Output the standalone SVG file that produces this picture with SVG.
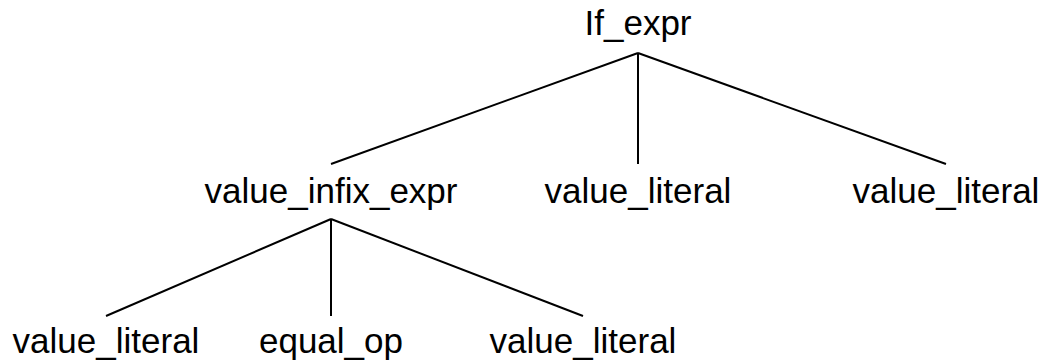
<svg xmlns="http://www.w3.org/2000/svg" width="1047" height="363" viewBox="0 0 1047 363">
  <style>
    .label { font-family: "Liberation Sans", Arial, sans-serif; font-size: 35px; fill: #000; text-anchor: middle; }
    .edge { stroke: #000; stroke-width: 2; fill: none; }
  </style>
  <rect width="1047" height="363" fill="#fff"/>
  <g id="connectors">
    <line class="edge" x1="638" y1="53" x2="331" y2="164"/>
    <line class="edge" x1="638" y1="53" x2="638" y2="164"/>
    <line class="edge" x1="638" y1="53" x2="946" y2="164"/>
    <line class="edge" x1="331" y1="219" x2="106" y2="316"/>
    <line class="edge" x1="331" y1="219" x2="331" y2="316"/>
    <line class="edge" x1="331" y1="219" x2="583" y2="316"/>
  </g>
  <g id="if_expr"><text class="label" x="638" y="35">If_expr</text></g>
  <g id="value_infix_expr"><text class="label" x="331" y="203">value_infix_expr</text></g>
  <g id="value_literal_1"><text class="label" x="638" y="203">value_literal</text></g>
  <g id="value_literal_2"><text class="label" x="946" y="203">value_literal</text></g>
  <g id="value_literal_3"><text class="label" x="106" y="353">value_literal</text></g>
  <g id="equal_op"><text class="label" x="331" y="353">equal_op</text></g>
  <g id="value_literal_4"><text class="label" x="583" y="353">value_literal</text></g>
</svg>
